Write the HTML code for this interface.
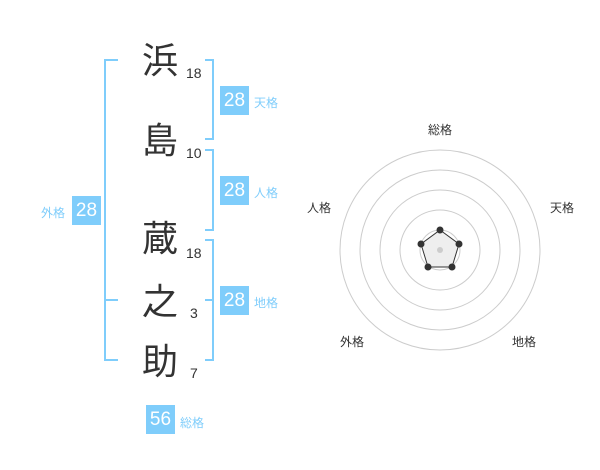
<!DOCTYPE html>
<html><head><meta charset="utf-8"><style>
body{margin:0;width:600px;height:470px;background:#fff;position:relative;font-family:"Liberation Sans","Noto Sans CJK JP",sans-serif;overflow:hidden}
.k{position:absolute;font-size:36px;color:#333;width:40px;text-align:center;line-height:40px}
.n{position:absolute;font-size:14px;color:#333;line-height:16px}
.b{position:absolute;background:#7fcdfb;color:#fff;font-size:19px;width:29px;height:29px;line-height:29px;text-align:center}
.l{position:absolute;font-size:12px;color:#7fcdfb;line-height:14px}
.s{position:absolute;font-size:12px;color:#333;line-height:14px}
</style></head><body>
<svg width="600" height="470" style="position:absolute;left:0;top:0">
<g fill="none" stroke="#7fcdfb" stroke-width="2">
<path d="M118 60H105V360H118M105 300H118"/>
<path d="M205 60H213V139H205"/>
<path d="M205 150H213V230H205"/>
<path d="M205 240H213V360H205M205 300H213"/>
</g>
<g fill="none" stroke="#ccc" stroke-width="1">
<circle cx="440" cy="250" r="100"/><circle cx="440" cy="250" r="80"/><circle cx="440" cy="250" r="60"/><circle cx="440" cy="250" r="40"/><circle cx="440" cy="250" r="20"/>
</g>
<polygon points="440,230 459,244 452,267 428,267 421,244" fill="rgba(200,200,200,0.3)" stroke="#333" stroke-width="1"/>
<g fill="#333"><circle cx="440" cy="230" r="3.5"/><circle cx="459" cy="244" r="3.5"/><circle cx="452" cy="267" r="3.5"/><circle cx="428" cy="267" r="3.5"/><circle cx="421" cy="244" r="3.5"/></g>
<circle cx="440" cy="250" r="3" fill="#ccc"/>
</svg>
<div class="k" style="left:140px;top:41px">浜</div><div class="n" style="left:186px;top:65px">18</div>
<div class="k" style="left:140px;top:121px">島</div><div class="n" style="left:186px;top:145px">10</div>
<div class="k" style="left:140px;top:219px">蔵</div><div class="n" style="left:186px;top:245px">18</div>
<div class="k" style="left:140px;top:282px">之</div><div class="n" style="left:190px;top:305px">3</div>
<div class="k" style="left:140px;top:342px">助</div><div class="n" style="left:190px;top:365px">7</div>
<div class="b" style="left:220px;top:86px">28</div><div class="l" style="left:254px;top:96px">天格</div>
<div class="b" style="left:220px;top:176px">28</div><div class="l" style="left:254px;top:186px">人格</div>
<div class="b" style="left:220px;top:286px">28</div><div class="l" style="left:254px;top:296px">地格</div>
<div class="b" style="left:72px;top:196px">28</div><div class="l" style="left:41px;top:206px">外格</div>
<div class="b" style="left:146px;top:405px">56</div><div class="l" style="left:180px;top:416px">総格</div>
<div class="s" style="left:428px;top:123px">総格</div>
<div class="s" style="left:550px;top:201px">天格</div>
<div class="s" style="left:307px;top:201px">人格</div>
<div class="s" style="left:340px;top:335px">外格</div>
<div class="s" style="left:512px;top:335px">地格</div>
</body></html>
